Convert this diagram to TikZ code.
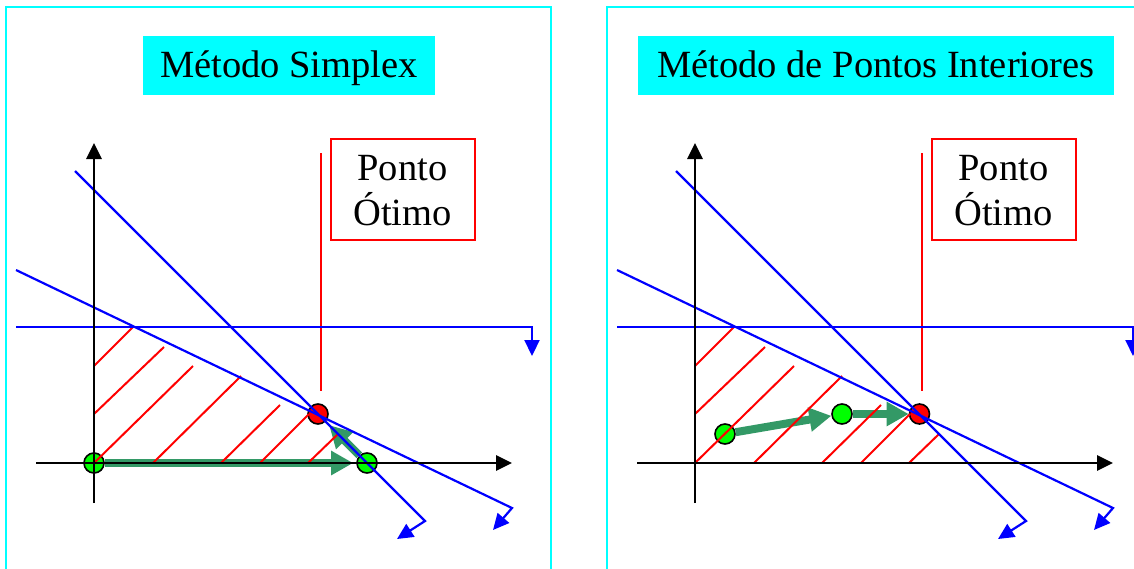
\documentclass[tikz,border=0pt]{standalone}
\usepackage{fontspec}
\setmainfont{Liberation Serif}
\usetikzlibrary{arrows.meta}
\definecolor{cyanbox}{RGB}{0,255,255}
\definecolor{blueln}{RGB}{0,0,255}
\definecolor{redln}{RGB}{255,0,0}
\definecolor{greenpt}{RGB}{0,255,0}
\definecolor{greenarr}{RGB}{51,153,102}
\newcommand\bigfont{\fontsize{38.5}{45}\selectfont}
\tikzset{
 frame/.style={draw=cyanbox, line width=2pt},
 titlebox/.style={fill=cyanbox, inner sep=0pt, minimum height=59pt, text height=35pt, text depth=12pt, font=\bigfont},
 optbox/.style={draw=redln, line width=2pt, inner sep=0pt, minimum width=144pt, minimum height=101pt},
 lbl/.style={anchor=base, inner sep=0pt, font=\bigfont},
 hatch/.style={draw=redln, line width=2pt},
 constr/.style={draw=blueln, line width=2.2pt, -{Triangle[length=16pt,width=15pt]}},
 axisln/.style={draw=black, line width=2.8pt, -{Triangle[length=16pt,width=15pt]}},
 optline/.style={draw=redln, line width=2pt},
 garrow/.style={draw=greenarr, line width=8pt, -{Triangle[length=22pt,width=23pt]}},
 gpt/.style={circle, fill=greenpt, draw=black, line width=1.6pt, minimum size=20pt, inner sep=0pt},
 rpt/.style={circle, fill=redln, draw=black, line width=1.6pt, minimum size=20pt, inner sep=0pt},
}
% #1 title text, #2 title centre x, #3 title width
\newcommand\panelframe[3]{%
 \draw[frame] (6,7) rectangle (551,620);
 \node[titlebox, minimum width=#3] (title) at (#2,65.5) {#1};
 \node[optbox] (optbox) at (402.5,189.5) {};
 \node[lbl] (ponto) at (402.5,180) {Ponto};
 \node[lbl] (otimo) at (402.5,225) {Ótimo};
 \coordinate (vt) at (320.5,153);
 \coordinate (vb) at (320.5,391);
 \draw[optline] (vt) -- (vb);
}
\newcommand\panellines{%
 % hatching
 \draw[hatch] (94,366) -- (133,327);
 \draw[hatch] (94,414) -- (164,347);
 \draw[hatch] (94,463) -- (193,366);
 \draw[hatch] (153,463) -- (241,376);
 \draw[hatch] (221,463) -- (280,405);
 \draw[hatch] (260,463) -- (309,414);
 \draw[hatch] (308,463) -- (338,434);
 % constraints
 \coordinate (h1) at (16,327); \coordinate (h2) at (532,327); \coordinate (h3) at (532,356);
 \coordinate (s1) at (75,171); \coordinate (s2) at (425,521); \coordinate (s3) at (397,539);
 \coordinate (f1) at (16,270); \coordinate (f2) at (512,508); \coordinate (f3) at (493,530);
 \draw[constr] (h1) -- (h2) -- (h3);
 \draw[constr] (s1) -- (s2) -- (s3);
 \draw[constr] (f1) -- (f2) -- (f3);
 % axes
 \coordinate (yb) at (94,503); \coordinate (yt) at (94,143);
 \coordinate (xl) at (36,463); \coordinate (xr) at (512,463);
 \draw[axisln] (yb) -- (yt);
 \draw[axisln] (xl) -- (xr);
}
\begin{document}
\begin{tikzpicture}[x=1pt,y=-1pt]
\useasboundingbox (0,0) rectangle (1134,568);
\clip (0,0) rectangle (1134,568);
% ---------- left panel ----------
\begin{scope}[name prefix=L-]
 \panelframe{Método Simplex}{289}{292pt}
 \node[gpt] (p0) at (94,463) {};
 \node[gpt] (p1) at (367,463) {};
 \node[rpt] (best) at (318,414) {};
 \draw[garrow, shorten >=3pt] (p0) -- (p1);
 \draw[garrow, shorten >=5pt] (p1) -- (best);
 \panellines
\end{scope}
% ---------- right panel ----------
\begin{scope}[shift={(601,0)}, name prefix=R-]
 \panelframe{Método de Pontos Interiores}{275}{476pt}
 \node[gpt] (q0) at (124,434) {};
 \node[gpt] (q1) at (241,414) {};
 \node[rpt] (best) at (318.5,414) {};
 \draw[garrow] (q0) -- (q1);
 \draw[garrow] (q1) -- (best);
 \panellines
\end{scope}
\end{tikzpicture}
\end{document}
